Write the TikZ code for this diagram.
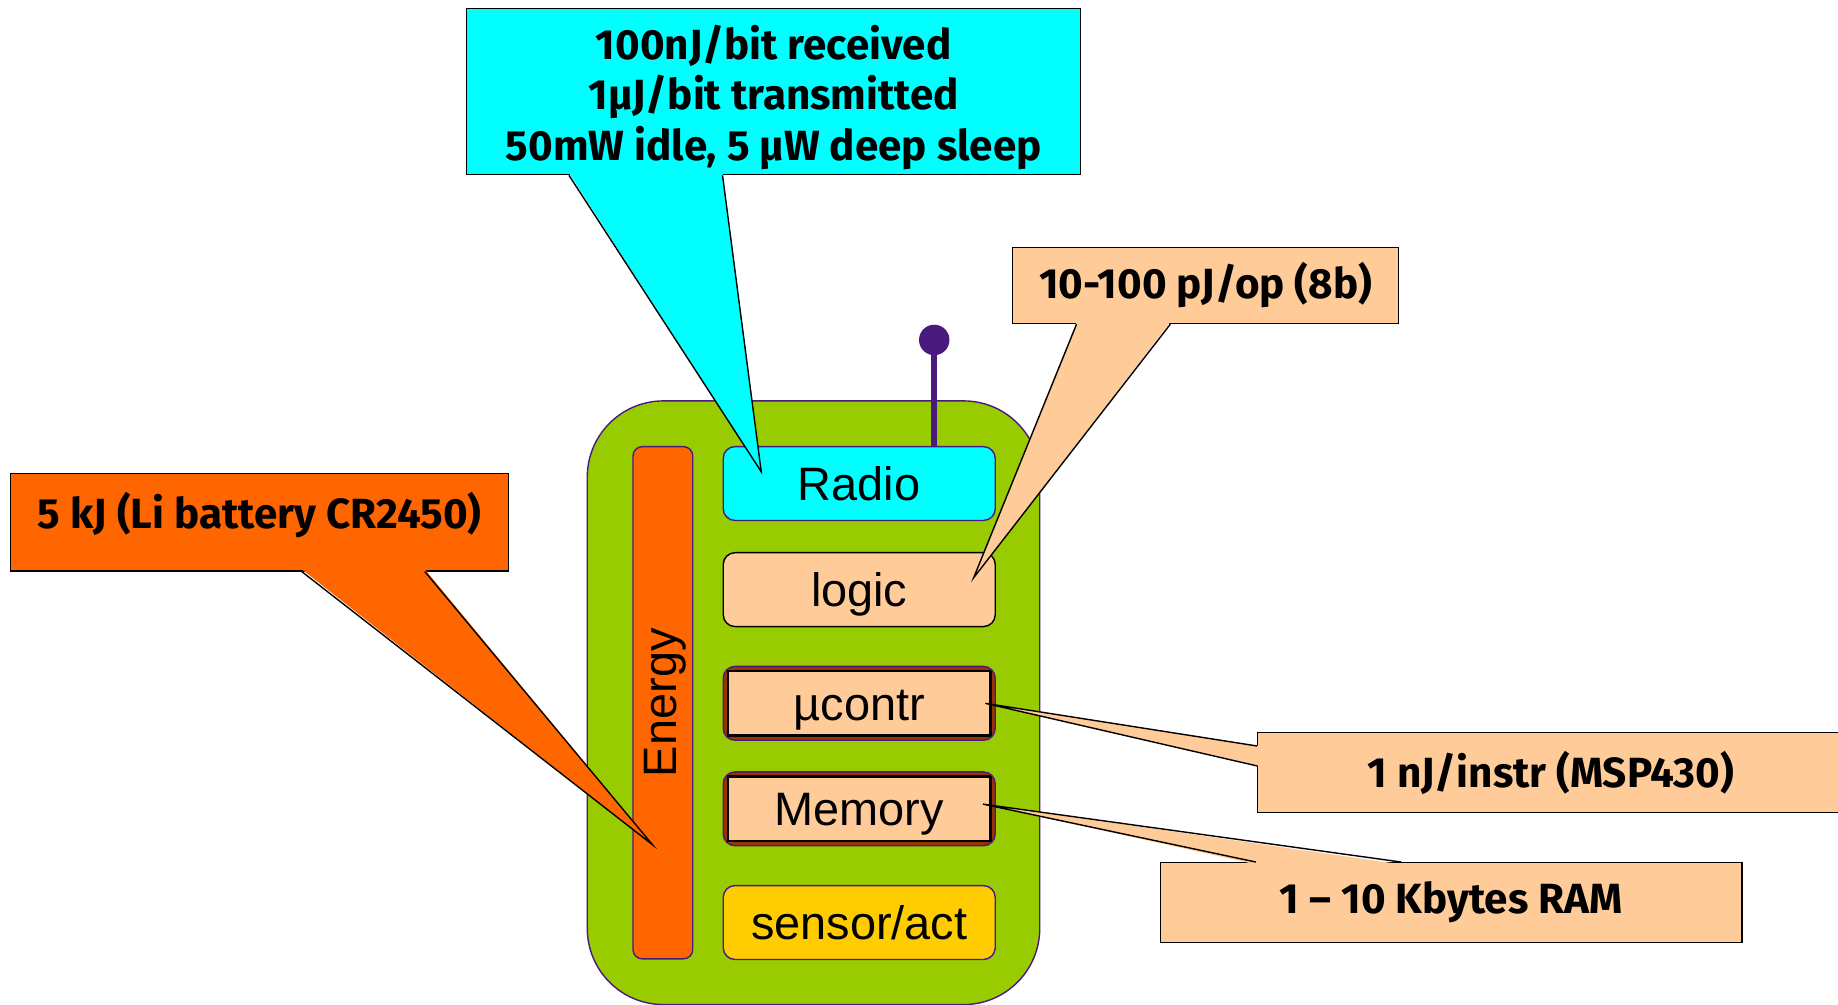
\documentclass[tikz,border=0pt]{standalone}
\usepackage{fontspec}
\setmainfont{Liberation Sans}
\newfontfamily\notefont{Fira Sans}
\usepackage{tikz}
\usetikzlibrary{calc}
\definecolor{DevPurple}{HTML}{4B1A7F}
\definecolor{BoardGreen}{HTML}{99CC00}
\definecolor{RadioCyan}{HTML}{00FFFF}
\definecolor{PowerOrange}{HTML}{FF6600}
\definecolor{Peach}{HTML}{FFCC99}
\definecolor{SensorYellow}{HTML}{FFCC00}
\definecolor{ChipRed}{HTML}{993300}

\begin{document}
\begin{tikzpicture}[x=1pt,y=-1pt,
  block/.style={draw=DevPurple,line width=1.2pt,inner sep=0pt,font=\fontsize{40}{44}\selectfont},
  part/.style={block,rounded corners=10pt,minimum width=232pt,minimum height=63pt,text height=29pt,text depth=0pt},
  chip/.style={part,fill=ChipRed,path picture={\draw[sharp corners,fill=Peach,draw=black,line width=2pt] ($(path picture bounding box.north west)+(4,4)$) rectangle ($(path picture bounding box.south east)+(-4,-4)$);}},
  note/.style={draw=black,line width=1.2pt,inner sep=0pt,align=center,font=\notefont\bfseries\fontsize{36}{43}\selectfont},
  tip/.style={draw=black,line width=1.2pt}
]
\useasboundingbox (0,0) rectangle (1568,857);
% the node itself
\node[draw=DevPurple,line width=1.2pt,fill=BoardGreen,rounded corners=65pt,minimum width=386pt,minimum height=515pt] (board) at (694,599.5) {};
\node[block,fill=PowerOrange,rounded corners=8pt,minimum width=51pt,minimum height=437pt] (energy) at (565.5,599.5) {\hspace{4pt}\rotatebox{90}{Energy}};
\node[part,fill=RadioCyan] (radio) at (733,412.5) {Radio};
\node[part,fill=Peach,draw=black] (logic) at (733,503) {logic};
\node[chip] (mcu) at (733,600) {µcontr};
\node[chip] (mem) at (733,690) {Memory};
\node[part,fill=SensorYellow] (sensor) at (733,787) {sensor/act};
\node[circle,fill=DevPurple,minimum size=26pt,inner sep=0pt] (ant) at (797,290) {};
\draw[DevPurple,line width=5pt] (ant.center) -- (ant |- radio.north);

% callouts
\node[note,fill=RadioCyan,minimum width=524pt,minimum height=142pt] (rxnote) at (660,78) {\raisebox{-7pt}[\height][\depth]{\begin{tabular}{@{}c@{}}100nJ/bit received\\1µJ/bit transmitted\\50mW idle, 5 µW deep sleep\end{tabular}}};
\coordinate (rxtip) at ($(radio.north west)+(33,22)$);
\fill[RadioCyan] ($(rxnote.south west)+(88,-2)$) -- (rxtip) -- ($(rxnote.south west)+(219,-2)$) -- cycle;
\draw[tip] ($(rxnote.south west)+(88,0)$) -- (rxtip) -- ($(rxnote.south west)+(219,0)$);

\node[note,fill=PowerOrange,minimum width=425pt,text height=28pt,text depth=17pt,inner ysep=19pt] (batnote) at (221.5,445.5) {5 kJ (Li battery CR2450)};
\coordinate (battip) at ($(energy.center)+(-9,121)$);
\fill[PowerOrange] ($(batnote.south west)+(249,-2)$) -- (battip) -- ($(batnote.south west)+(354,-2)$) -- cycle;
\draw[tip] ($(batnote.south west)+(249,0)$) -- (battip) -- ($(batnote.south west)+(354,0)$);

\node[note,fill=Peach,minimum width=329pt,minimum height=65pt] (opnote) at (1028.5,243.5) {10-100 pJ/op (8b)};
\coordinate (optip) at ($(logic.north east)+(-19,22)$);
\fill[Peach] ($(opnote.south west)+(55,-2)$) -- (optip) -- ($(opnote.south west)+(135,-2)$) -- cycle;
\draw[tip] ($(opnote.south west)+(55,0)$) -- (optip) -- ($(opnote.south west)+(135,0)$);

\node[note,fill=Peach,minimum width=500pt,minimum height=68pt] (instrnote) at (1323,659) {1 nJ/instr (MSP430)};
\coordinate (instrtip) at ($(mcu.east)+(-9,0)$);
\fill[Peach] ($(instrnote.north west)+(2,12)$) -- (instrtip) -- ($(instrnote.north west)+(2,29)$) -- cycle;
\draw[tip] ($(instrnote.north west)+(0,12)$) -- (instrtip) -- ($(instrnote.north west)+(0,29)$);

\node[note,fill=Peach,minimum width=496pt,minimum height=68pt] (ramnote) at (1238,770) {1 – 10 Kbytes RAM};
\coordinate (ramtip) at ($(mem.east)+(-11,-4)$);
\fill[Peach] ($(ramnote.north west)+(82,2)$) -- (ramtip) -- ($(ramnote.north west)+(206,2)$) -- cycle;
\draw[tip] ($(ramnote.north west)+(82,0)$) -- (ramtip) -- ($(ramnote.north west)+(206,0)$);
\end{tikzpicture}
\end{document}
